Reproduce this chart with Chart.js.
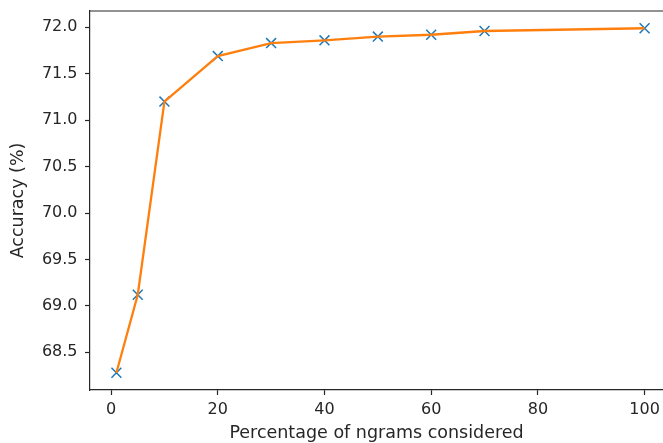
<!DOCTYPE html>
<html lang="en">
<head>
    <meta charset="UTF-8">
    <title>Accuracy vs ngrams</title>
    <script src="https://cdn.jsdelivr.net/npm/chart.js@4.4.0/dist/chart.umd.min.js"></script>
    <style>
        html, body {
            margin: 0;
            padding: 0;
            background: #fff;
            overflow: hidden;
        }
        #wrap {
            width: 663px;
            height: 443px;
        }
    </style>
</head>
<body>
    <div id="wrap">
        <canvas id="chart" width="663" height="443"></canvas>
    </div>

    <script>
        // data
        const percentages = [1, 5, 10, 20, 30, 40, 50, 60, 70, 100];
        const accuracy = [68.28, 69.12, 71.20, 71.69, 71.83, 71.86, 71.90, 71.92, 71.96, 71.99];
        const xTicks = [0, 20, 40, 60, 80, 100];
        const yTicks = [68.5, 69.0, 69.5, 70.0, 70.5, 71.0, 71.5, 72.0];

        const points = percentages.map((p, i) => ({ x: p, y: accuracy[i] }));

        // matplotlib-like 5% margins around the data
        const xMin = Math.min(...percentages), xMax = Math.max(...percentages);
        const yMin = Math.min(...accuracy), yMax = Math.max(...accuracy);
        const xPad = (xMax - xMin) * 0.05, yPad = (yMax - yMin) * 0.05;
        // the original image is cut off on the right, before the right spine
        const xCut = 1.5;

        const tickFont = { family: 'DejaVu Sans', size: 16 };
        const titleFont = { family: 'DejaVu Sans', size: 17.5, lineHeight: 1 };
        const ink = '#262626';

        // top spine
        const topSpine = {
            id: 'topSpine',
            afterDraw(chart) {
                const a = chart.chartArea;
                const ctx = chart.ctx;
                ctx.save();
                ctx.strokeStyle = ink;
                ctx.lineWidth = 1.2;
                ctx.beginPath();
                ctx.moveTo(a.left, a.top);
                ctx.lineTo(a.right, a.top);
                ctx.stroke();
                ctx.restore();
            }
        };

        function noPad(s) {
            s.paddingTop = 0;
            s.paddingBottom = 0;
            s.paddingLeft = 0;
            s.paddingRight = 0;
        }

        new Chart(document.getElementById('chart'), {
            type: 'scatter',
            data: {
                datasets: [
                    {
                        label: 'line',
                        data: points,
                        showLine: true,
                        borderColor: '#ff7f0e',
                        borderWidth: 2.3,
                        pointRadius: 0,
                        fill: false,
                        order: 0
                    },
                    {
                        label: 'markers',
                        data: points,
                        showLine: false,
                        pointStyle: 'crossRot',
                        pointRadius: 7,
                        pointBorderWidth: 1.5,
                        pointBorderColor: '#1f77b4',
                        pointBackgroundColor: '#1f77b4',
                        order: 1
                    }
                ]
            },
            options: {
                responsive: false,
                animation: false,
                layout: { autoPadding: false, padding: { top: 11, right: 0, left: 0, bottom: 0 } },
                plugins: {
                    legend: { display: false },
                    tooltip: { enabled: false }
                },
                scales: {
                    x: {
                        type: 'linear',
                        min: xMin - xPad,
                        max: xMax + xPad - xCut,
                        afterBuildTicks: s => { s.ticks = xTicks.map(v => ({ value: v })); },
                        afterFit: s => { s.height = 53; noPad(s); },
                        grid: { drawOnChartArea: false, tickLength: 5, tickColor: ink, tickWidth: 1.2 },
                        border: { display: true, color: ink, width: 1.2 },
                        ticks: { font: tickFont, color: ink, padding: 5, maxRotation: 0,
                                 callback: v => String(v) },
                        title: { display: true, text: 'Percentage of ngrams considered',
                                 font: titleFont, color: ink, padding: { top: 0, bottom: 0.5 } }
                    },
                    y: {
                        type: 'linear',
                        min: yMin - yPad,
                        max: yMax + yPad,
                        afterBuildTicks: s => { s.ticks = yTicks.map(v => ({ value: v })); },
                        afterFit: s => { s.width = 90; noPad(s); },
                        grid: { drawOnChartArea: false, tickLength: 5, tickColor: ink, tickWidth: 1.2 },
                        border: { display: true, color: ink, width: 1.2 },
                        ticks: { font: tickFont, color: ink, padding: 7.5,
                                 callback: v => Number(v).toFixed(1) },
                        title: { display: true, text: 'Accuracy (%)',
                                 font: titleFont, color: ink, padding: { top: 10, bottom: 0 } }
                    }
                }
            },
            plugins: [topSpine]
        });
    </script>
</body>
</html>
